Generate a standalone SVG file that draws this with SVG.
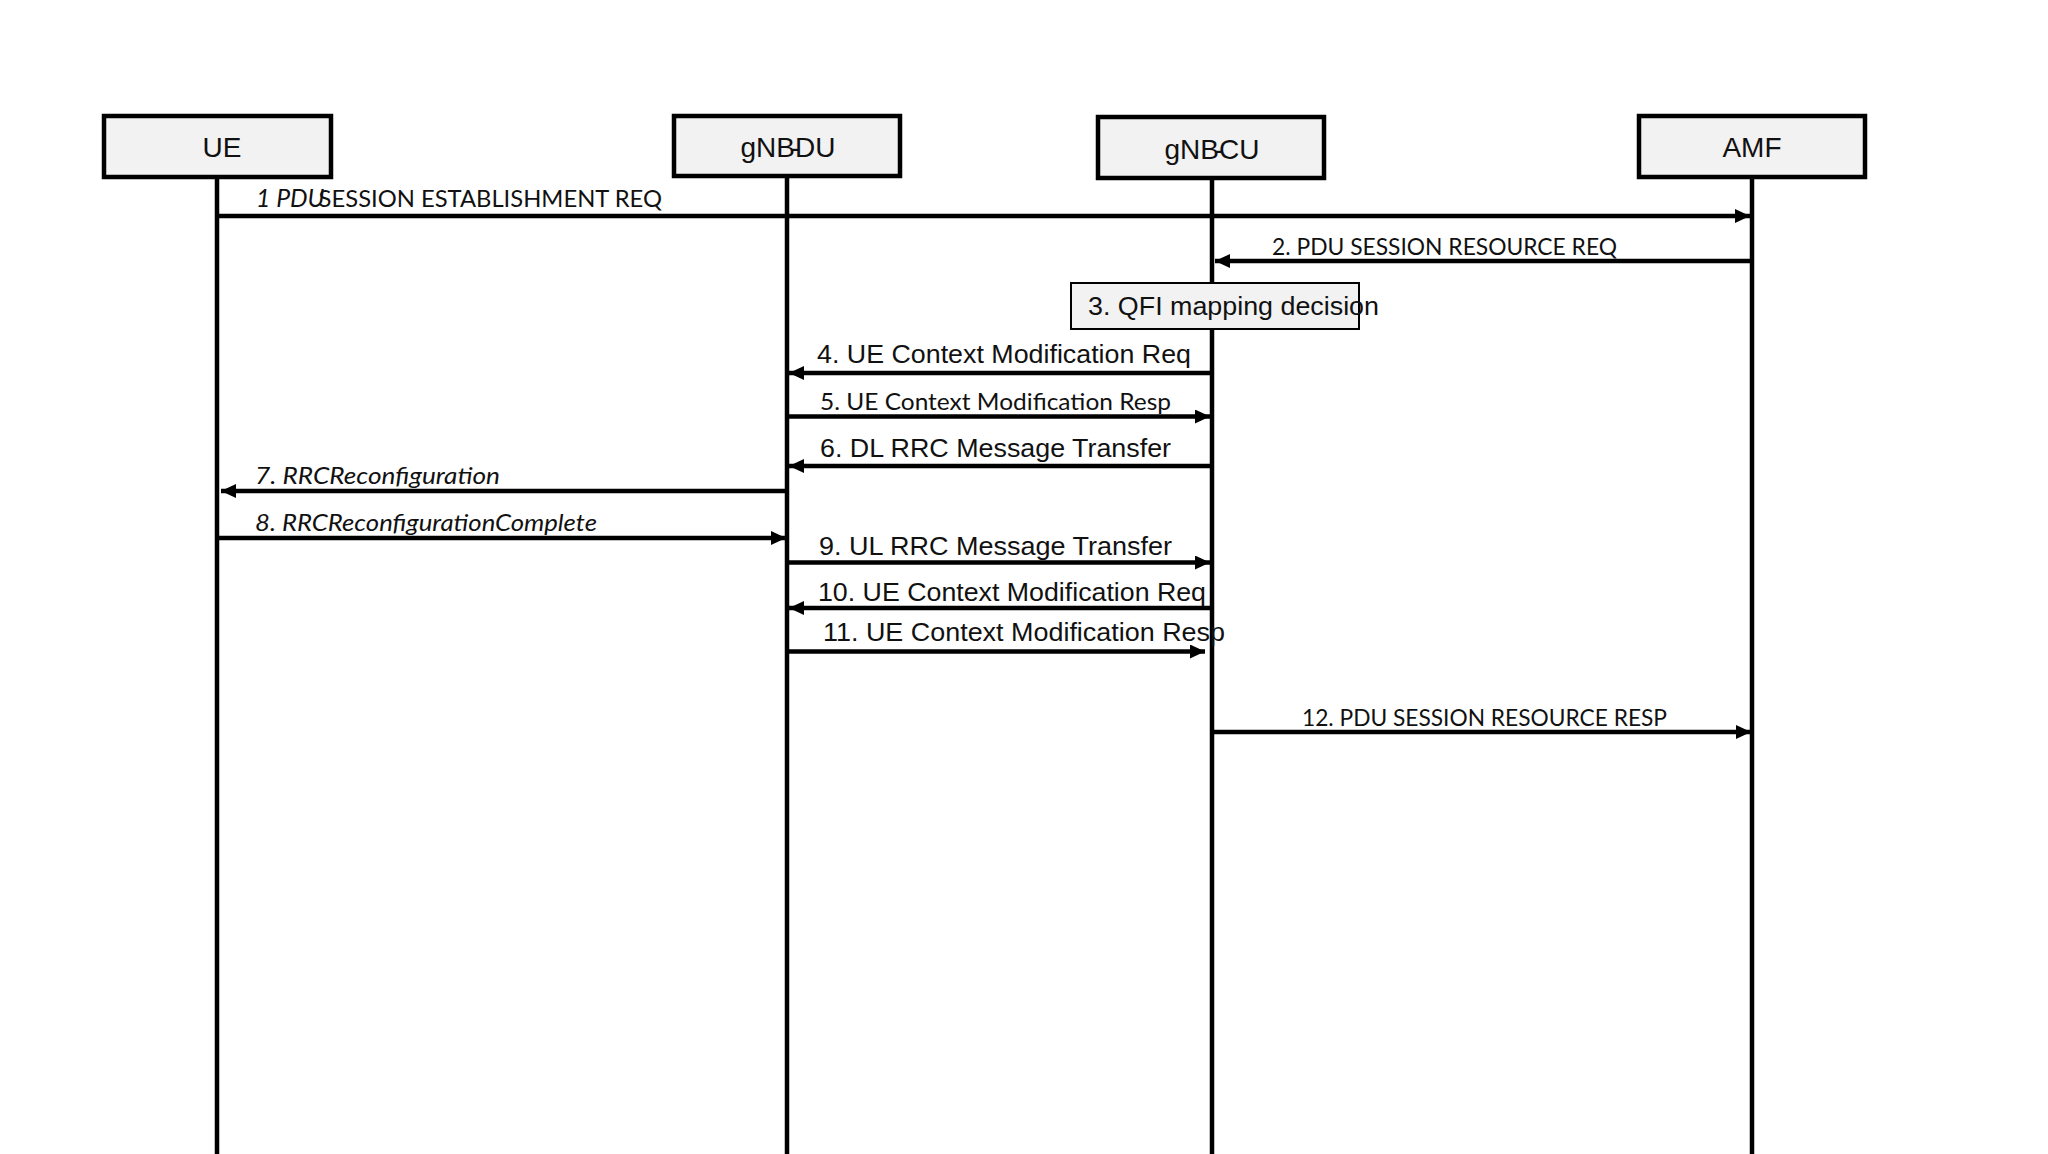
<svg xmlns="http://www.w3.org/2000/svg" width="2048" height="1154" viewBox="0 0 2048 1154">
<style>
.box{fill:#f2f2f2;stroke:#000;stroke-width:4.5}
.lbl{font-family:"Liberation Sans",Arial,sans-serif;font-size:28px;fill:#111;text-anchor:middle}
.life{stroke:#000;stroke-width:4.5;fill:none}
.msg{stroke:#000;stroke-width:4.5;fill:none;marker-end:url(#ah)}
.ar{font-family:"Liberation Sans",Arial,sans-serif;font-size:25.5px;fill:#111}
.la{font-family:Lato,"Liberation Sans",sans-serif;font-size:24px;fill:#111}
.it{font-style:italic}
</style>
<defs>
<marker id="ah" markerUnits="userSpaceOnUse" markerWidth="15" markerHeight="14" refX="15" refY="7" orient="auto">
<path d="M0,0 L15,7 L0,14 z" fill="#000"/>
</marker>
</defs>
<rect width="2048" height="1154" fill="#fff"/>
<g id="lifelines">
<line class="life" x1="217" y1="178" x2="217" y2="1154"/>
<line class="life" x1="787" y1="177" x2="787" y2="1154"/>
<line class="life" x1="1212" y1="179" x2="1212" y2="1154"/>
<line class="life" x1="1752" y1="178" x2="1752" y2="1154"/>
</g>
<g id="node-ue">
<rect class="box" x="104" y="116" width="227" height="61"/>
<text class="lbl" x="222" y="157">UE</text>
</g>
<g id="node-gnbdu">
<rect class="box" x="674" y="116" width="226" height="60"/>
<text class="lbl" x="788" y="157" dx="0 0 0 -5 -4.3 0">gNB-DU</text>
</g>
<g id="node-gnbcu">
<rect class="box" x="1098" y="117" width="226" height="61"/>
<text class="lbl" x="1212" y="159" dx="0 0 0 -5 -4.3 0">gNB-CU</text>
</g>
<g id="node-amf">
<rect class="box" x="1639" y="116" width="226" height="61"/>
<text class="lbl" x="1752" y="157">AMF</text>
</g>
<g id="node-qfi">
<rect x="1071" y="283" width="288" height="46" fill="#f2f2f2" stroke="#000" stroke-width="2"/>
<text class="ar" x="1088" y="315" textLength="291" lengthAdjust="spacingAndGlyphs">3. QFI mapping decision</text>
</g>
<g id="connectors">
<line class="msg" x1="217" y1="216" x2="1750" y2="216"/>
<line class="msg" x1="1752" y1="261" x2="1215" y2="261"/>
<line class="msg" x1="1212" y1="373" x2="789" y2="373"/>
<line class="msg" x1="787" y1="416.5" x2="1210" y2="416.5"/>
<line class="msg" x1="1212" y1="466" x2="789" y2="466"/>
<line class="msg" x1="787" y1="491" x2="221" y2="491"/>
<line class="msg" x1="217" y1="538" x2="786" y2="538"/>
<line class="msg" x1="787" y1="562.5" x2="1210" y2="562.5"/>
<line class="msg" x1="1212" y1="608" x2="789" y2="608"/>
<line class="msg" x1="787" y1="651.5" x2="1205" y2="651.5"/>
<line class="msg" x1="1212" y1="732" x2="1751" y2="732"/>
</g>
<g id="labels">
<text class="la" x="256" y="207" textLength="406" lengthAdjust="spacingAndGlyphs"><tspan class="it" font-size="25">1 PDU</tspan><tspan dx="-6">SESSION ESTABLISHMENT REQ</tspan></text>
<text class="la" x="1272" y="255" textLength="345" lengthAdjust="spacingAndGlyphs">2. PDU SESSION RESOURCE REQ</text>
<text class="ar" x="817" y="363" textLength="374" lengthAdjust="spacingAndGlyphs">4. UE Context Modification Req</text>
<text class="la" x="820" y="410" textLength="351" lengthAdjust="spacingAndGlyphs">5. UE Context Modification Resp</text>
<text class="ar" x="820" y="457" textLength="351" lengthAdjust="spacingAndGlyphs">6. DL RRC Message Transfer</text>
<text class="la it" x="255" y="484" textLength="245" lengthAdjust="spacingAndGlyphs">7. RRCReconfiguration</text>
<text class="la it" x="255" y="531" textLength="342" lengthAdjust="spacingAndGlyphs">8. RRCReconfigurationComplete</text>
<text class="ar" x="819" y="555" textLength="353" lengthAdjust="spacingAndGlyphs">9. UL RRC Message Transfer</text>
<text class="ar" x="818" y="601" textLength="388" lengthAdjust="spacingAndGlyphs">10. UE Context Modification Req</text>
<text class="ar" x="823" y="641" textLength="402" lengthAdjust="spacingAndGlyphs">11. UE Context Modification Resp</text>
<text class="la" x="1302" y="725.5" textLength="365" lengthAdjust="spacingAndGlyphs">12. PDU SESSION RESOURCE RESP</text>
</g>
</svg>
